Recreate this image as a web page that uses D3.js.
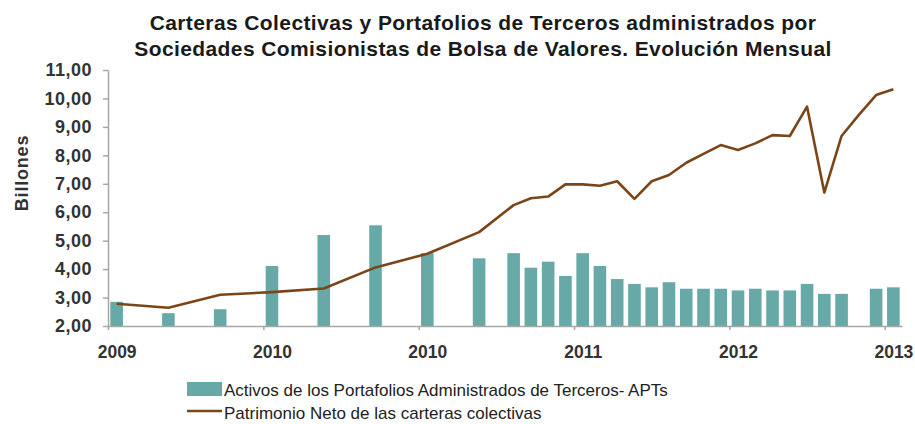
<!DOCTYPE html>
<html>
<head>
<meta charset="utf-8">
<script src="https://cdn.jsdelivr.net/npm/d3@7"></script>
<style>
  body { margin: 0; background: #fff; }
  text { font-family: "Liberation Sans", Arial, sans-serif; }
</style>
</head>
<body>
<div id="chart"></div>
<script>
// monthly slots on the category axis (46 slots)
const months = d3.range(46);

// Activos de los Portafolios Administrados de Terceros (billones)
const apts = [
  2.85, null, null, 2.45, null, null, 2.59, null, null, 4.11,
  null, null, 5.20, null, null, 5.54, null, null, 4.56, null,
  null, 4.38, null, 4.56, 4.05, 4.26, 3.76, 4.56, 4.11, 3.65,
  3.48, 3.36, 3.54, 3.31, 3.31, 3.31, 3.25, 3.31, 3.25, 3.25,
  3.48, 3.13, 3.13, null, 3.31, 3.36
];

// Patrimonio Neto de las carteras colectivas (billones)
const patrimonio = [
  2.78, null, null, 2.64, null, null, 3.10, null, null, 3.19,
  null, null, 3.32, null, null, 4.06, null, null, 4.54, null,
  null, 5.30, null, 6.25, 6.49, 6.55, 6.98, 6.98, 6.93, 7.09,
  6.47, 7.09, 7.31, 7.74, 8.05, 8.36, 8.19, 8.42, 8.71, 8.68,
  9.71, 6.69, 8.68, 9.42, 10.12, 10.32
];

const tickIdx = [0, 9, 18, 27, 36, 45];
const tickLabels = ['2009', '2010', '2010', '2011', '2012', '2013'];
const yTicks = [2, 3, 4, 5, 6, 7, 8, 9, 10, 11];

const width = 915, height = 424;
const plot = { left: 108, right: 902, top: 70, bottom: 326 };
const barColor = '#66a9a6', lineColor = '#7a4619', axisColor = '#a6a6a6';

const svg = d3.select('#chart').append('svg')
  .attr('width', width)
  .attr('height', height);

// title
const titleLines = [
  'Carteras Colectivas y Portafolios de Terceros administrados por',
  'Sociedades Comisionistas de Bolsa de Valores. Evolución Mensual'
];
svg.selectAll('.title')
  .data(titleLines)
  .join('text')
  .attr('class', 'title')
  .attr('x', 483)
  .attr('y', (d, i) => 30 + i * 26)
  .attr('text-anchor', 'middle')
  .style('font-weight', 'bold').style('font-size', '21px')
  .style('letter-spacing', '0.4px').style('fill', '#1a1a1a')
  .text(d => d);

const x = d3.scaleBand()
  .domain(months)
  .range([plot.left, plot.right])
  .paddingInner(0.27)
  .paddingOuter(0.135);

const xEdge = d3.scaleLinear()
  .domain([0, months.length])
  .range([plot.left, plot.right]);

const y = d3.scaleLinear()
  .domain([2, 11])
  .range([plot.bottom, plot.top]);

// bars
svg.append('g')
  .selectAll('rect')
  .data(months.filter(i => apts[i] != null))
  .join('rect')
  .attr('x', i => x(i))
  .attr('y', i => y(apts[i]))
  .attr('width', x.bandwidth())
  .attr('height', i => y(2) - y(apts[i]))
  .attr('fill', barColor);

// y axis
const yAxis = svg.append('g')
  .attr('transform', `translate(${plot.left},0)`)
  .call(d3.axisLeft(y).tickValues(yTicks).tickSize(5).tickSizeOuter(0)
    .tickFormat(d => d.toFixed(2).replace('.', ',')));
yAxis.select('.domain').attr('stroke', axisColor).attr('stroke-width', 1.5);
yAxis.selectAll('.tick line').attr('stroke', axisColor).attr('stroke-width', 1.5);
yAxis.selectAll('.tick text')
  .attr('x', -16)
  .style('font-size', '18px').style('font-weight', 'bold').style('fill', '#333')
  .style('letter-spacing', '0.5px')
  .style('font-family', '"Liberation Sans", Arial, sans-serif');

// x axis
const xAxis = svg.append('g')
  .attr('transform', `translate(0,${plot.bottom})`)
  .call(d3.axisBottom(xEdge).tickValues(tickIdx).tickSize(4).tickSizeOuter(0)
    .tickFormat((d, i) => tickLabels[i]));
xAxis.select('.domain').attr('stroke', axisColor).attr('stroke-width', 1.5);
xAxis.selectAll('.tick line').attr('stroke', axisColor).attr('stroke-width', 1.5);
xAxis.selectAll('.tick text')
  .attr('dx', x.step() / 2)
  .attr('y', 20)
  .style('font-size', '17.5px').style('font-weight', 'bold').style('fill', '#333')
  .style('font-family', '"Liberation Sans", Arial, sans-serif');

// line
const pts = months.filter(i => patrimonio[i] != null);
const line = d3.line()
  .x(i => x(i) + x.bandwidth() / 2)
  .y(i => y(patrimonio[i]));
svg.append('path')
  .datum(pts)
  .attr('d', line)
  .attr('fill', 'none')
  .attr('stroke', lineColor)
  .attr('stroke-width', 2.6)
  .attr('stroke-linejoin', 'round');

// y title
svg.append('text')
  .attr('transform', 'translate(22,173) rotate(-90)')
  .attr('text-anchor', 'middle')
  .attr('dominant-baseline', 'central')
  .style('font-size', '18px').style('font-weight', 'bold').style('fill', '#333')
  .style('letter-spacing', '0.8px')
  .text('Billones');

// legend
const legend = svg.append('g');
legend.append('rect')
  .attr('x', 187).attr('y', 382).attr('width', 35).attr('height', 14)
  .attr('fill', barColor);
legend.append('text')
  .attr('x', 224).attr('y', 396)
  .style('font-size', '17px').style('fill', '#222')
  .text('Activos de los Portafolios Administrados de Terceros- APTs');
legend.append('line')
  .attr('x1', 187).attr('x2', 222).attr('y1', 411).attr('y2', 411)
  .attr('stroke', lineColor).attr('stroke-width', 2.5);
legend.append('text')
  .attr('x', 224).attr('y', 419)
  .style('font-size', '17px').style('fill', '#222')
  .text('Patrimonio Neto de las carteras colectivas');
</script>
</body>
</html>
